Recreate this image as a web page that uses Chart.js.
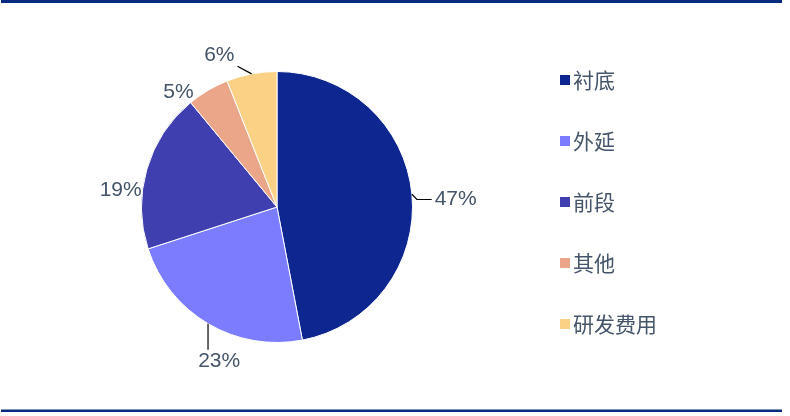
<!DOCTYPE html>
<html>
<head>
<meta charset="utf-8">
<script src="https://cdn.jsdelivr.net/npm/chart.js@4.4.1/dist/chart.umd.min.js"></script>
<style>
  html, body { margin: 0; padding: 0; background: #fff; }
  #wrap { position: relative; width: 790px; height: 416px; }
</style>
</head>
<body>
<div id="wrap"><canvas id="pieChart" width="790" height="416"></canvas></div>
<script>
// categories and shares (%)
const categories = ['衬底', '外延', '前段', '其他', '研发费用'];
const shares = [47, 23, 19, 5, 6];
const sliceColors = ['#0d2690', '#7b7cff', '#3f3fb0', '#eba689', '#fbd185'];

const textColor = '#44546a';
const lineColor = '#062b7f';

// frame lines top and bottom
const framePlugin = {
    id: 'frame',
    beforeDraw(chart) {
        const ctx = chart.ctx;
        ctx.save();
        ctx.fillStyle = '#ffffff';
        ctx.fillRect(0, 0, chart.width, chart.height);
        ctx.fillStyle = lineColor;
        ctx.fillRect(1, 0, 781, 3);
        ctx.fillRect(1, 409.5, 781, 2.5);
        ctx.restore();
    }
};

// percentage labels outside the pie ("best fit" look), with leader lines
const labelPlugin = {
    id: 'outLabels',
    afterDatasetsDraw(chart) {
        const ctx = chart.ctx;
        const meta = chart.getDatasetMeta(0);
        const total = shares.reduce((a, b) => a + b, 0);
        const deg = Math.PI / 180;
        ctx.save();
        ctx.font = '21px "Liberation Sans", Arial, sans-serif';
        ctx.textAlign = 'center';
        ctx.textBaseline = 'middle';
        meta.data.forEach((arc, i) => {
            const p = arc.getProps(['x', 'y', 'startAngle', 'endAngle', 'outerRadius'], true);
            const mid = (p.startAngle + p.endAngle) / 2;
            const mc = Math.cos(mid), ms = Math.sin(mid);
            const ex = p.x + p.outerRadius * mc;
            const ey = p.y + p.outerRadius * ms;
            const left = mc < 0;
            // upper-left labels sit tight to the pie, without leader
            const tight = mc < -0.4 && ms < 0.2;
            const a = mid + (left ? -10 : 3) * deg;
            const c = Math.cos(a), s = Math.sin(a);
            const txt = Math.round(shares[i] / total * 100) + '%';
            const w = ctx.measureText(txt).width;
            const h = 16;
            const gap = tight ? 0 : (left ? 14 : 22);
            const ext = w / 2 * Math.abs(c) + h / 2 * Math.abs(s);
            const dist = p.outerRadius + gap + ext;
            const lx = p.x + dist * c;
            const ly = p.y + dist * s;

            // leader: from slice edge to nearest point of the label box
            const bx0 = lx - w / 2 - 3, bx1 = lx + w / 2 + 3;
            const by0 = ly - h / 2 - 3, by1 = ly + h / 2 + 3;
            const nx = Math.min(Math.max(ex, bx0), bx1);
            const ny = Math.min(Math.max(ey, by0), by1);
            const len = Math.hypot(nx - ex, ny - ey);
            if (!tight && len > 8) {
                ctx.strokeStyle = '#000';
                ctx.lineWidth = 1.2;
                ctx.beginPath();
                ctx.moveTo(ex, ey);
                if (Math.abs(ms) < 0.3) {
                    // side label: short bend then horizontal
                    const kx = ex + (nx > ex ? 5 : -5);
                    ctx.lineTo(kx, ly);
                    ctx.lineTo(nx, ly);
                } else if (Math.abs(mc) < 0.6 && ms > 0) {
                    // label below: straight down
                    ctx.lineTo(ex, ny);
                } else {
                    ctx.lineTo(nx, ny);
                }
                ctx.stroke();
            }
            ctx.fillStyle = textColor;
            ctx.fillText(txt, lx, ly);
        });
        ctx.restore();
    }
};

// legend on the right, drawn on the canvas
const legendPlugin = {
    id: 'sideLegend',
    afterDraw(chart) {
        const ctx = chart.ctx;
        ctx.save();
        ctx.font = '21px "Noto Sans CJK SC", sans-serif';
        ctx.textBaseline = 'middle';
        ctx.textAlign = 'left';
        const x0 = 560, y0 = 80, step = 61;
        categories.forEach((name, i) => {
            const y = y0 + i * step;
            ctx.fillStyle = sliceColors[i];
            ctx.fillRect(x0, y - 5, 10, 10);
            ctx.fillStyle = textColor;
            ctx.fillText(name, x0 + 13, y);
        });
        ctx.restore();
    }
};

const config = {
    type: 'pie',
    data: {
        labels: categories,
        datasets: [{
            data: shares,
            backgroundColor: sliceColors,
            borderColor: '#ffffff',
            borderWidth: 1
        }]
    },
    options: {
        responsive: false,
        animation: false,
        rotation: 0,
        layout: {
            padding: { left: 141, top: 71, right: 377, bottom: 73 }
        },
        plugins: {
            legend: { display: false },
            tooltip: { enabled: false }
        }
    },
    plugins: [framePlugin, labelPlugin, legendPlugin]
};

const myChart = new Chart(document.getElementById('pieChart'), config);
</script>
</body>
</html>
